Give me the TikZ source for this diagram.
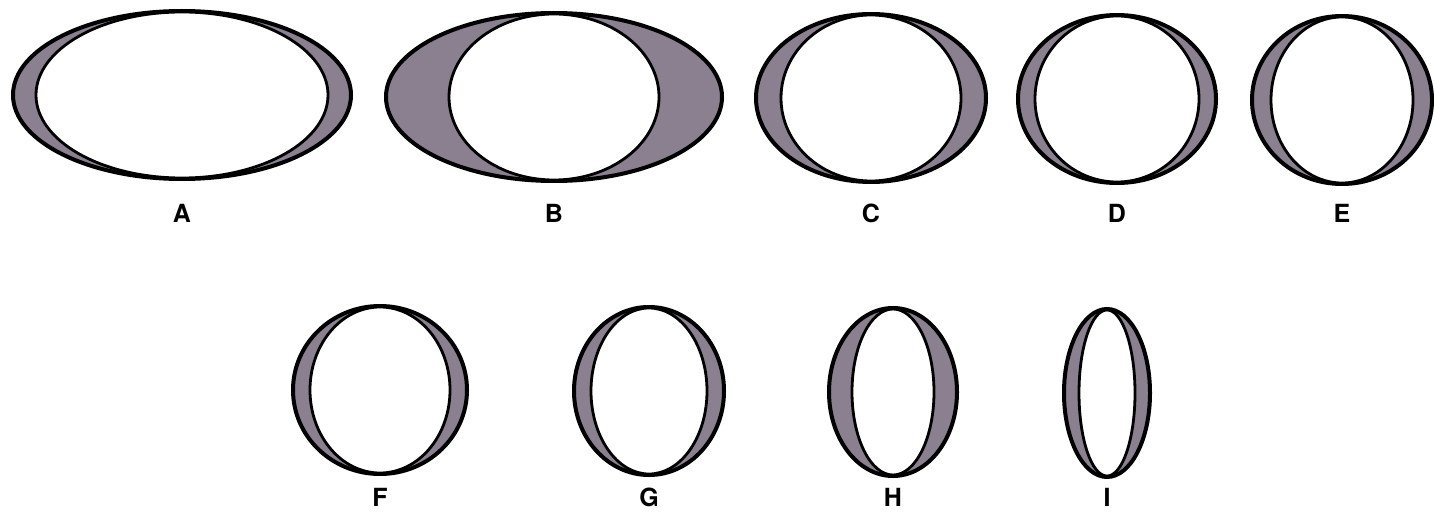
\documentclass[tikz,border=0pt]{standalone}
\usepackage{fontspec}
\setsansfont{TeX Gyre Heros}
\definecolor{shade}{RGB}{138,128,144}
\begin{document}
\begin{tikzpicture}[x=1pt,y=-1pt,
  outerring/.style={fill=shade,draw=black,line width=4pt},
  innerring/.style={fill=white,draw=black,line width=2.8pt},
  lbl/.style={font=\sffamily\bfseries\fontsize{25}{25}\selectfont,inner sep=0pt}]
\useasboundingbox (0,0) rectangle (1434,513);
\fill[white] (0,0) rectangle (1434,513);
\foreach \n/\cx/\cy/\ro/\ri/\ly in {
  A/182/95/169/146/213,
  B/554/97/168/105/213,
  C/871/98/115/90/213,
  D/1117/99/99/82/213,
  E/1342/100/90/71/213,
  F/380/390/87/70/497,
  G/649/391/75/58/497,
  H/893/392/64/41/497,
  I/1107/393/43/28/497}{
  \draw[outerring] (\cx,\cy) ellipse [x radius=\ro, y radius=84];
  \draw[innerring] (\cx,\cy) ellipse [x radius=\ri, y radius=83];
  \node[lbl] (lbl\n) at (\cx,\ly) {\n};
}
\end{tikzpicture}
\end{document}
